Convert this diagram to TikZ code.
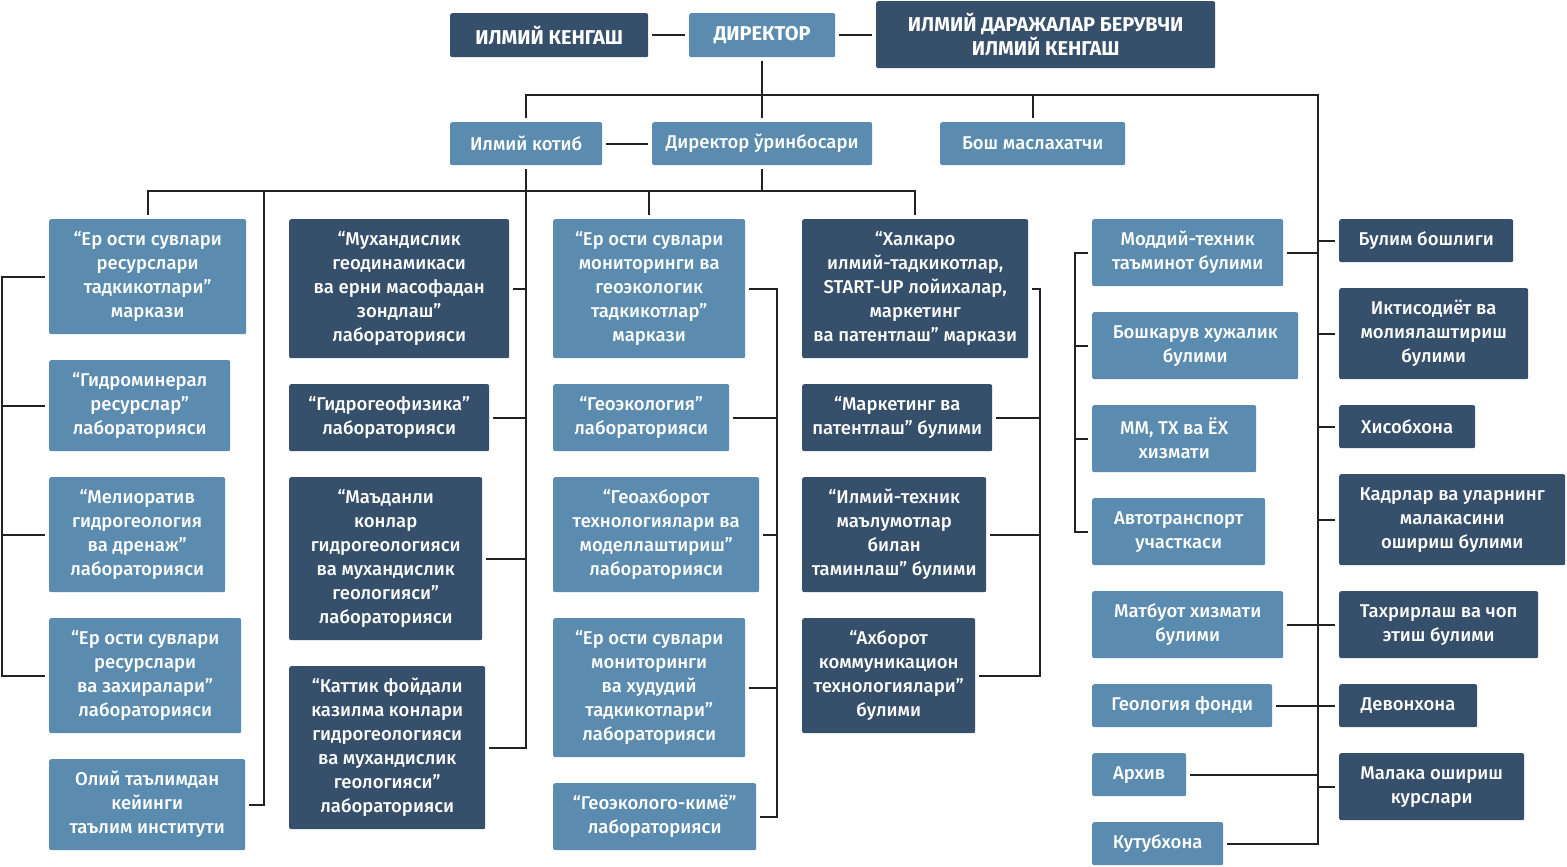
\documentclass[tikz,border=0pt]{standalone}
\usepackage{fontspec}
\setmainfont{Fira Sans}[UprightFont = * Medium, BoldFont = * Bold]
\usetikzlibrary{calc}
\definecolor{lb}{RGB}{91,140,175}
\definecolor{db}{RGB}{54,79,107}
\definecolor{ln}{RGB}{34,34,34}
\tikzset{
    lbox/.style = {rectangle,
                  rounded corners=2pt,
                  fill=lb,
                  draw=none,
                  text=white,
                  anchor=north west,
                  align=center,
                  inner sep=0pt,
                  font=\fontsize{18.5}{24}\selectfont},
    dbox/.style = {lbox,
                  fill=db},
    head/.style = {font=\bfseries\fontsize{20}{24}\selectfont},
    link/.style = {draw=ln,
                  line width=2.4pt,
                  shorten >=4pt,
                  shorten <=4pt},
    tick/.style = {link,
                  shorten >=0pt}
}
\begin{document}
\begin{tikzpicture}[x=1pt,y=-1pt]
    \useasboundingbox (0,0) rectangle (1567,867);
    % top row
    \node[dbox,head] (kengash)  [minimum width=198, minimum height=44] at (450,13)  {ИЛМИЙ КЕНГАШ};
    \node[lbox,head] (director) [minimum width=146, minimum height=44] at (689,13)  {ДИРЕКТОР};
    \node[dbox,head] (daraja)   [minimum width=339, minimum height=67] at (876,1)   {ИЛМИЙ ДАРАЖАЛАР БЕРУВЧИ\\ИЛМИЙ КЕНГАШ};
    % second row
    \node[lbox] (kotib)     [minimum width=152, minimum height=43] at (450,122) {Илмий котиб};
    \node[lbox] (orinbosar) [minimum width=220, minimum height=43] at (652,122) {Директор ўринбосари};
    \node[lbox] (maslahat)  [minimum width=185, minimum height=43] at (940,122) {Бош маслахатчи};
    % column 1
    \node[lbox] (c1a) [minimum width=197, minimum height=115] at (49,219) {“Ер ости сувлари\\ресурслари\\тадкикотлари”\\маркази};
    \node[lbox] (c1b) [minimum width=181, minimum height=91]  at (49,360) {“Гидроминерал\\ресурслар”\\лабораторияси};
    \node[lbox] (c1c) [minimum width=176, minimum height=115] at (49,477) {“Мелиоратив\\гидрогеология\\ва дренаж”\\лабораторияси};
    \node[lbox] (c1d) [minimum width=192, minimum height=115] at (49,618) {“Ер ости сувлари\\ресурслари\\ва захиралари”\\лабораторияси};
    \node[lbox] (c1e) [minimum width=196, minimum height=91]  at (49,759) {Олий таълимдан\\кейинги\\таълим институти};
    % column 2
    \node[dbox] (c2a) [minimum width=220, minimum height=139] at (289,219) {“Мухандислик\\геодинамикаси\\ва ерни масофадан\\зондлаш”\\лабораторияси};
    \node[dbox] (c2b) [minimum width=200, minimum height=67]  at (289,384) {“Гидрогеофизика”\\лабораторияси};
    \node[dbox] (c2c) [minimum width=193, minimum height=163] at (289,477) {“Маъданли\\конлар\\гидрогеологияси\\ва мухандислик\\геологияси”\\лабораторияси};
    \node[dbox] (c2d) [minimum width=196, minimum height=163] at (289,666) {“Каттик фойдали\\казилма конлари\\гидрогеологияси\\ва мухандислик\\геологияси”\\лабораторияси};
    % column 3
    \node[lbox] (c3a) [minimum width=192, minimum height=139] at (553,219) {“Ер ости сувлари\\мониторинги ва\\геоэкологик\\тадкикотлар”\\маркази};
    \node[lbox] (c3b) [minimum width=176, minimum height=67]  at (553,384) {“Геоэкология”\\лабораторияси};
    \node[lbox] (c3c) [minimum width=206, minimum height=115] at (553,477) {“Геоахборот\\технологиялари ва\\моделлаштириш”\\лабораторияси};
    \node[lbox] (c3d) [minimum width=192, minimum height=139] at (553,618) {“Ер ости сувлари\\мониторинги\\ва худудий\\тадкикотлари”\\лабораторияси};
    \node[lbox] (c3e) [minimum width=203, minimum height=67]  at (553,783) {“Геоэколого-кимё”\\лабораторияси};
    % column 4
    \node[dbox] (c4a) [minimum width=226, minimum height=139] at (802,219) {“Халкаро\\илмий-тадкикотлар,\\START-UP лойихалар,\\маркетинг\\ва патентлаш” маркази};
    \node[dbox] (c4b) [minimum width=190, minimum height=67]  at (802,384) {“Маркетинг ва\\патентлаш” булими};
    \node[dbox] (c4c) [minimum width=184, minimum height=115] at (802,477) {“Илмий-техник\\маълумотлар\\билан\\таминлаш” булими};
    \node[dbox] (c4d) [minimum width=173, minimum height=115] at (802,618) {“Ахборот\\коммуникацион\\технологиялари”\\булими};
    % column 5
    \node[lbox] (c5a) [minimum width=191, minimum height=67] at (1092,219) {Моддий-техник\\таъминот булими};
    \node[lbox] (c5b) [minimum width=206, minimum height=67] at (1092,312) {Бошкарув хужалик\\булими};
    \node[lbox] (c5c) [minimum width=164, minimum height=67] at (1092,405) {ММ, ТХ ва ЁХ\\хизмати};
    \node[lbox] (c5d) [minimum width=173, minimum height=67] at (1092,498) {Автотранспорт\\участкаси};
    \node[lbox] (c5e) [minimum width=191, minimum height=67] at (1092,591) {Матбуот хизмати\\булими};
    \node[lbox] (c5f) [minimum width=180, minimum height=43] at (1092,684) {Геология фонди};
    \node[lbox] (c5g) [minimum width=94,  minimum height=43] at (1092,753) {Архив};
    \node[lbox] (c5h) [minimum width=131, minimum height=43] at (1092,822) {Кутубхона};
    % column 6
    \node[dbox] (c6a) [minimum width=174, minimum height=43] at (1339,219) {Булим бошлиги};
    \node[dbox] (c6b) [minimum width=189, minimum height=91] at (1339,288) {Иктисодиёт ва\\молиялаштириш\\булими};
    \node[dbox] (c6c) [minimum width=136, minimum height=43] at (1339,405) {Хисобхона};
    \node[dbox] (c6d) [minimum width=226, minimum height=91] at (1339,474) {Кадрлар ва уларнинг\\малакасини\\ошириш булими};
    \node[dbox] (c6e) [minimum width=199, minimum height=67] at (1339,591) {Тахрирлаш ва чоп\\этиш булими};
    \node[dbox] (c6f) [minimum width=138, minimum height=43] at (1339,684) {Девонхона};
    \node[dbox] (c6g) [minimum width=185, minimum height=67] at (1339,753) {Малака ошириш\\курслари};
    % bus lines
    \coordinate (busT)   at (1318,95);
    \coordinate (midbus) at (0,191);
    \coordinate (instx)  at (264,0);
    \coordinate (c1x)    at (2,0);
    \coordinate (c3x)    at (777,0);
    \coordinate (c4x)    at (1040,0);
    \coordinate (c5x)    at (1075,0);
    % top connectors
    \draw[link] (kengash)  -- (director);
    \draw[link] (director) -- (daraja.west |- director);
    \draw[link] (director) -- (orinbosar);
    \draw[link] (kotib)    -- (orinbosar);
    \draw[link] (kotib.north) |- (busT) |- (c5h.east);
    \draw[tick] (maslahat.north)  -- (maslahat.north |- busT);
    \draw[tick] (orinbosar.south) -- (orinbosar.south |- midbus);
    \draw[link] (c1a.north) |- (c4a.north |- midbus) -- (c4a.north);
    \draw[tick] (c3a.north) -- (c3a.north |- midbus);
    \draw[tick] (c1e.east)  -| (instx |- midbus);
    % column 1
    \draw[link] (c1a.west) -- (c1a.west -| c1x) |- (c1d.west);
    \foreach \n in {c1b,c1c}
        \draw[tick] (\n.west) -- (\n.west -| c1x);
    % column 2
    \draw[link] (kotib.south) |- (c2d.east);
    \foreach \n in {c2a,c2b,c2c}
        \draw[tick] (\n.east) -- (\n.east -| kotib.south);
    % column 3
    \draw[link] (c3a.east) -- (c3a.east -| c3x) |- (c3e.east);
    \foreach \n in {c3b,c3c,c3d}
        \draw[tick] (\n.east) -- (\n.east -| c3x);
    % column 4
    \draw[link] (c4a.east) -- (c4a.east -| c4x) |- (c4d.east);
    \foreach \n in {c4b,c4c}
        \draw[tick] (\n.east) -- (\n.east -| c4x);
    % column 5
    \draw[link] (c5a.west) -- (c5a.west -| c5x) |- (c5d.west);
    \foreach \n in {c5b,c5c}
        \draw[tick] (\n.west) -- (\n.west -| c5x);
    \foreach \n in {c5a,c5g}
        \draw[tick] (\n.east) -- (\n.east -| busT);
    \draw[link] (c5e.east) -- (c6e.west);
    \draw[link] (c5f.east) -- (c6f.west);
    % column 6
    \foreach \n in {c6a,c6b,c6c,c6d,c6g}
        \draw[tick] (\n.west) -- (\n.west -| busT);
\end{tikzpicture}
\end{document}
